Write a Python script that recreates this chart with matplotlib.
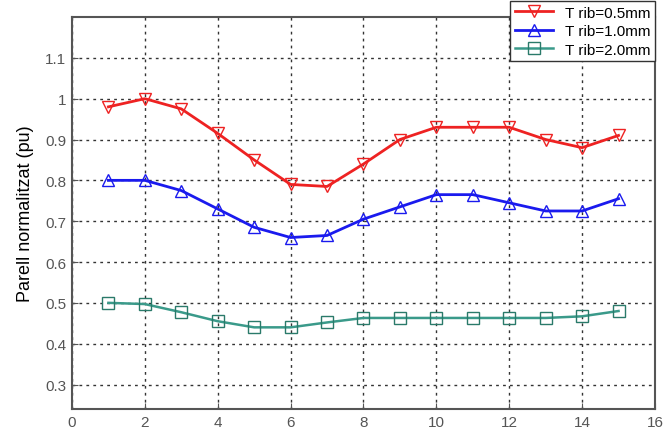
import matplotlib
matplotlib.use("Agg")
import matplotlib.pyplot as plt

plt.rcParams["font.family"] = ["Liberation Sans", "DejaVu Sans"]

x = list(range(1, 16))
t05 = [0.98, 1.0, 0.975, 0.915, 0.85, 0.79, 0.785, 0.84, 0.90, 0.93, 0.93, 0.93, 0.90, 0.88, 0.91]
t10 = [0.80, 0.80, 0.775, 0.73, 0.685, 0.66, 0.665, 0.705, 0.735, 0.765, 0.765, 0.745, 0.725, 0.725, 0.755]
t20 = [0.50, 0.497, 0.477, 0.455, 0.44, 0.44, 0.452, 0.463, 0.463, 0.463, 0.463, 0.463, 0.463, 0.467, 0.48]
labels = ["T rib=0.5mm", "T rib=1.0mm", "T rib=2.0mm"]

fig = plt.figure(figsize=(6.64, 4.31), dpi=100)
ax = fig.add_axes([0.1084, 0.0487, 0.878, 0.9095])

ax.plot(x, t05, color="#ee2222", lw=2, marker="v", ms=9, mfc="none", mec="#ee2222", label=labels[0])
ax.plot(x, t10, color="#1a1aee", lw=2, marker="^", ms=8, mfc="none", mec="#1a1aee", label=labels[1])
ax.plot(x, t20, color="#3a9a8a", lw=1.8, marker="s", ms=8, mfc="none", mec="#2a7a6a", label=labels[2])

ax.set_xlim(0, 16)
ax.set_ylim(0.24, 1.2)
ax.set_xticks(range(0, 17, 2))
ax.set_yticks([0.3, 0.4, 0.5, 0.6, 0.7, 0.8, 0.9, 1.0, 1.1])
ax.set_yticklabels(["0.3", "0.4", "0.5", "0.6", "0.7", "0.8", "0.9", "1", "1.1"])
ax.grid(True, color="#333333", linestyle=(0, (2, 3)), lw=1)
ax.tick_params(colors="#555555", labelsize=11, direction="in", length=4, pad=4)
for s in ax.spines.values():
    s.set_color("#555555")
    s.set_linewidth(1.5)
ax.set_ylabel("Parell normalitzat (pu)", fontsize=13, labelpad=8)

leg = ax.legend(loc="upper right", bbox_to_anchor=(655 / 664, 1 - 2 / 431),
                bbox_transform=fig.transFigure, fontsize=11, fancybox=False,
                framealpha=1, edgecolor="#333333", borderaxespad=0, handlelength=2.5,
                labelspacing=0.3, borderpad=0.3)
leg.get_frame().set_linewidth(1)

fig.savefig("out.png", dpi=100)
